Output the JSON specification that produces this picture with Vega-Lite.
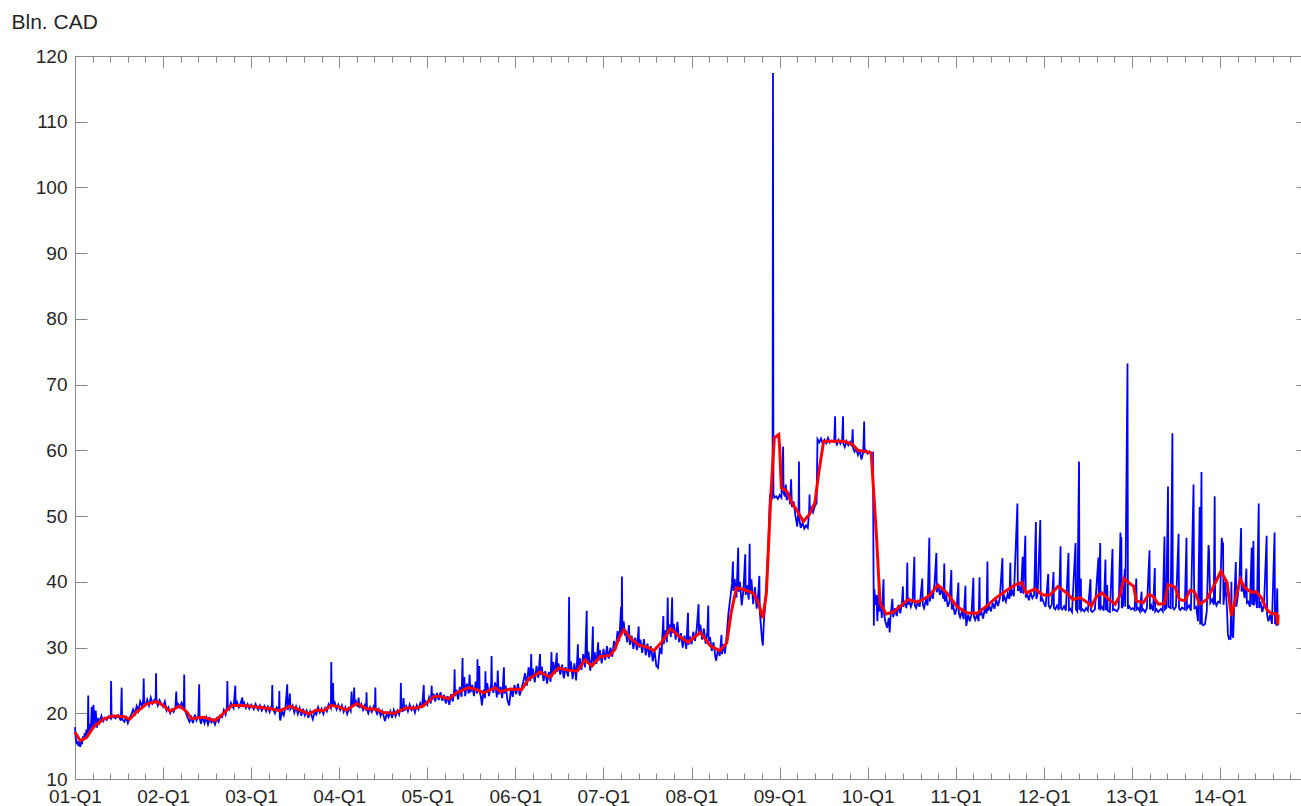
{
"$schema": "https://vega.github.io/schema/vega-lite/v6.json",
"width": 1226, "height": 723,
"autosize": {"type": "none"},
"padding": {"left": 75, "top": 56, "right": 0, "bottom": 27},
"background": "white",
"config": {"view": {"stroke": null}, "axis": {"grid": false, "labelFont": "Liberation Sans", "labelFontSize": 19, "labelColor": "#262626", "titleFont": "Liberation Sans", "titleFontSize": 21, "titleFontWeight": "normal", "titleColor": "#262626", "domainColor": "#8a8a8a", "tickColor": "#8a8a8a", "domainWidth": 1, "tickWidth": 1}},
"datasets": {
"blue": [
{"t":2001.000,"v":17.9},{"t":2001.008,"v":16.2},{"t":2001.02,"v":15.3},{"t":2001.03,"v":15.8},{"t":2001.04,"v":15.0},{"t":2001.05,"v":15.4},{"t":2001.06,"v":14.9},{"t":2001.07,"v":15.8},{"t":2001.08,"v":15.3},{"t":2001.09,"v":16.5},{"t":2001.10,"v":15.9},{"t":2001.11,"v":17.0},{"t":2001.12,"v":16.4},{"t":2001.13,"v":17.5},{"t":2001.145,"v":16.8},{"t":2001.15,"v":22.7},{"t":2001.155,"v":17.2},{"t":2001.17,"v":18.4},{"t":2001.18,"v":17.3},{"t":2001.19,"v":21.0},{"t":2001.20,"v":17.6},{"t":2001.21,"v":21.3},{"t":2001.22,"v":18.0},{"t":2001.235,"v":20.4},{"t":2001.25,"v":17.8},{"t":2001.265,"v":19.3},{"t":2001.28,"v":18.6},{"t":2001.30,"v":19.6},{"t":2001.32,"v":18.8},{"t":2001.34,"v":19.3},{"t":2001.36,"v":19.0},{"t":2001.38,"v":19.5},{"t":2001.405,"v":19.2},{"t":2001.41,"v":24.9},{"t":2001.415,"v":19.3},{"t":2001.43,"v":19.6},{"t":2001.46,"v":19.2},{"t":2001.49,"v":19.7},{"t":2001.52,"v":18.9},{"t":2001.53,"v":23.9},{"t":2001.535,"v":19.1},{"t":2001.56,"v":18.7},{"t":2001.58,"v":19.4},{"t":2001.60,"v":18.5},{"t":2001.62,"v":19.3},{"t":2001.64,"v":19.8},{"t":2001.66,"v":20.6},{"t":2001.68,"v":19.9},{"t":2001.70,"v":21.1},{"t":2001.72,"v":20.4},{"t":2001.74,"v":21.8},{"t":2001.76,"v":21.0},{"t":2001.775,"v":21.9},{"t":2001.78,"v":25.3},{"t":2001.785,"v":21.5},{"t":2001.80,"v":21.3},{"t":2001.82,"v":22.1},{"t":2001.84,"v":21.2},{"t":2001.86,"v":22.4},{"t":2001.88,"v":21.5},{"t":2001.90,"v":22.0},{"t":2001.915,"v":21.6},{"t":2001.92,"v":26.1},{"t":2001.925,"v":21.9},{"t":2001.94,"v":21.2},{"t":2001.96,"v":22.0},{"t":2001.98,"v":21.4},
{"t":2002.00,"v":21.0},{"t":2002.02,"v":21.8},{"t":2002.04,"v":20.4},{"t":2002.06,"v":20.9},{"t":2002.08,"v":20.0},{"t":2002.10,"v":20.6},{"t":2002.12,"v":20.2},{"t":2002.14,"v":21.0},{"t":2002.15,"v":23.3},{"t":2002.155,"v":20.8},{"t":2002.17,"v":21.4},{"t":2002.19,"v":20.9},{"t":2002.21,"v":21.6},{"t":2002.235,"v":20.8},{"t":2002.24,"v":25.9},{"t":2002.245,"v":20.6},{"t":2002.26,"v":20.0},{"t":2002.28,"v":19.3},{"t":2002.30,"v":18.7},{"t":2002.32,"v":19.4},{"t":2002.34,"v":18.5},{"t":2002.36,"v":19.8},{"t":2002.38,"v":18.9},{"t":2002.40,"v":19.6},{"t":2002.41,"v":24.4},{"t":2002.415,"v":19.3},{"t":2002.43,"v":18.4},{"t":2002.45,"v":19.5},{"t":2002.47,"v":18.5},{"t":2002.49,"v":19.4},{"t":2002.51,"v":18.3},{"t":2002.53,"v":19.2},{"t":2002.55,"v":18.6},{"t":2002.57,"v":19.0},{"t":2002.59,"v":18.3},{"t":2002.61,"v":19.2},{"t":2002.63,"v":18.7},{"t":2002.65,"v":19.6},{"t":2002.67,"v":19.4},{"t":2002.69,"v":20.5},{"t":2002.71,"v":19.8},{"t":2002.725,"v":21.0},{"t":2002.73,"v":24.9},{"t":2002.735,"v":21.0},{"t":2002.75,"v":20.6},{"t":2002.77,"v":21.6},{"t":2002.80,"v":20.8},{"t":2002.82,"v":24.2},{"t":2002.825,"v":21.2},{"t":2002.84,"v":21.7},{"t":2002.86,"v":20.9},{"t":2002.88,"v":21.5},{"t":2002.90,"v":22.4},{"t":2002.905,"v":21.0},{"t":2002.92,"v":21.6},{"t":2002.94,"v":20.8},{"t":2002.96,"v":21.4},{"t":2002.98,"v":20.7},
{"t":2003.00,"v":21.3},{"t":2003.03,"v":20.6},{"t":2003.05,"v":21.4},{"t":2003.08,"v":20.5},{"t":2003.10,"v":21.2},{"t":2003.12,"v":20.4},{"t":2003.15,"v":21.1},{"t":2003.17,"v":20.3},{"t":2003.19,"v":21.0},{"t":2003.21,"v":20.2},{"t":2003.235,"v":21.3},{"t":2003.24,"v":24.3},{"t":2003.245,"v":20.8},{"t":2003.27,"v":20.0},{"t":2003.29,"v":20.9},{"t":2003.315,"v":20.5},{"t":2003.32,"v":23.4},{"t":2003.325,"v":19.4},{"t":2003.33,"v":18.9},{"t":2003.35,"v":20.3},{"t":2003.37,"v":19.7},{"t":2003.39,"v":21.0},{"t":2003.41,"v":24.4},{"t":2003.415,"v":20.5},{"t":2003.43,"v":21.5},{"t":2003.44,"v":23.0},{"t":2003.445,"v":20.6},{"t":2003.47,"v":21.2},{"t":2003.49,"v":20.1},{"t":2003.51,"v":21.0},{"t":2003.53,"v":19.9},{"t":2003.55,"v":20.8},{"t":2003.57,"v":19.6},{"t":2003.59,"v":20.7},{"t":2003.61,"v":19.7},{"t":2003.63,"v":20.4},{"t":2003.65,"v":19.3},{"t":2003.67,"v":20.3},{"t":2003.70,"v":19.1},{"t":2003.72,"v":20.2},{"t":2003.74,"v":19.8},{"t":2003.76,"v":20.9},{"t":2003.78,"v":20.1},{"t":2003.80,"v":20.7},{"t":2003.82,"v":19.9},{"t":2003.84,"v":20.8},{"t":2003.86,"v":20.3},{"t":2003.88,"v":21.4},{"t":2003.905,"v":20.8},{"t":2003.91,"v":27.8},{"t":2003.915,"v":21.2},{"t":2003.93,"v":24.6},{"t":2003.935,"v":21.0},{"t":2003.95,"v":21.6},{"t":2003.97,"v":20.6},{"t":2003.99,"v":21.3},
{"t":2004.01,"v":20.5},{"t":2004.03,"v":21.2},{"t":2004.05,"v":20.2},{"t":2004.07,"v":20.9},{"t":2004.09,"v":19.9},{"t":2004.11,"v":20.8},{"t":2004.13,"v":20.3},{"t":2004.14,"v":23.3},{"t":2004.145,"v":21.0},{"t":2004.16,"v":21.4},{"t":2004.17,"v":23.9},{"t":2004.175,"v":21.2},{"t":2004.19,"v":21.8},{"t":2004.21,"v":21.0},{"t":2004.22,"v":22.4},{"t":2004.23,"v":20.8},{"t":2004.25,"v":21.4},{"t":2004.27,"v":20.5},{"t":2004.29,"v":21.2},{"t":2004.305,"v":20.4},{"t":2004.31,"v":23.2},{"t":2004.315,"v":20.6},{"t":2004.33,"v":20.0},{"t":2004.35,"v":20.9},{"t":2004.37,"v":20.2},{"t":2004.39,"v":21.0},{"t":2004.405,"v":20.5},{"t":2004.41,"v":23.9},{"t":2004.415,"v":20.4},{"t":2004.43,"v":19.9},{"t":2004.45,"v":20.6},{"t":2004.47,"v":19.6},{"t":2004.49,"v":20.3},{"t":2004.52,"v":18.8},{"t":2004.54,"v":20.0},{"t":2004.56,"v":19.4},{"t":2004.58,"v":20.3},{"t":2004.60,"v":19.3},{"t":2004.62,"v":20.5},{"t":2004.64,"v":19.6},{"t":2004.66,"v":20.4},{"t":2004.68,"v":19.8},{"t":2004.695,"v":20.9},{"t":2004.70,"v":24.6},{"t":2004.705,"v":20.7},{"t":2004.72,"v":20.2},{"t":2004.73,"v":22.3},{"t":2004.74,"v":20.4},{"t":2004.76,"v":21.1},{"t":2004.78,"v":20.3},{"t":2004.80,"v":21.3},{"t":2004.82,"v":20.5},{"t":2004.84,"v":21.0},{"t":2004.86,"v":20.1},{"t":2004.88,"v":21.2},{"t":2004.90,"v":20.6},{"t":2004.92,"v":21.5},{"t":2004.94,"v":20.8},{"t":2004.96,"v":24.3},{"t":2004.965,"v":21.2},{"t":2004.98,"v":21.8},
{"t":2005.00,"v":21.3},{"t":2005.02,"v":22.4},{"t":2005.04,"v":21.5},{"t":2005.05,"v":24.2},{"t":2005.055,"v":22.0},{"t":2005.07,"v":23.0},{"t":2005.09,"v":21.8},{"t":2005.11,"v":23.1},{"t":2005.13,"v":22.0},{"t":2005.15,"v":23.2},{"t":2005.17,"v":21.9},{"t":2005.19,"v":22.8},{"t":2005.21,"v":21.5},{"t":2005.23,"v":22.6},{"t":2005.25,"v":21.3},{"t":2005.27,"v":22.9},{"t":2005.29,"v":21.8},{"t":2005.305,"v":23.5},{"t":2005.31,"v":26.7},{"t":2005.315,"v":22.6},{"t":2005.33,"v":23.6},{"t":2005.35,"v":22.1},{"t":2005.37,"v":24.0},{"t":2005.39,"v":22.5},{"t":2005.40,"v":28.4},{"t":2005.405,"v":23.4},{"t":2005.42,"v":25.5},{"t":2005.43,"v":22.6},{"t":2005.45,"v":24.5},{"t":2005.47,"v":23.0},{"t":2005.48,"v":25.9},{"t":2005.49,"v":23.2},{"t":2005.51,"v":24.3},{"t":2005.53,"v":22.6},{"t":2005.55,"v":24.8},{"t":2005.565,"v":23.0},{"t":2005.57,"v":28.2},{"t":2005.575,"v":23.5},{"t":2005.59,"v":27.2},{"t":2005.595,"v":23.3},{"t":2005.61,"v":22.4},{"t":2005.62,"v":21.2},{"t":2005.64,"v":23.6},{"t":2005.655,"v":22.3},{"t":2005.66,"v":26.4},{"t":2005.665,"v":23.3},{"t":2005.68,"v":24.6},{"t":2005.70,"v":22.6},{"t":2005.725,"v":24.5},{"t":2005.73,"v":28.7},{"t":2005.735,"v":24.0},{"t":2005.75,"v":23.1},{"t":2005.77,"v":24.7},{"t":2005.79,"v":22.4},{"t":2005.80,"v":26.5},{"t":2005.81,"v":22.9},{"t":2005.83,"v":24.0},{"t":2005.85,"v":22.3},{"t":2005.87,"v":27.0},{"t":2005.875,"v":23.0},{"t":2005.89,"v":24.2},{"t":2005.91,"v":22.0},{"t":2005.93,"v":21.2},{"t":2005.95,"v":23.8},{"t":2005.97,"v":22.5},{"t":2005.99,"v":24.3},
{"t":2006.01,"v":22.9},{"t":2006.03,"v":24.5},{"t":2006.05,"v":22.7},{"t":2006.07,"v":23.9},{"t":2006.09,"v":24.8},{"t":2006.11,"v":26.1},{"t":2006.13,"v":24.2},{"t":2006.15,"v":27.0},{"t":2006.17,"v":24.9},{"t":2006.18,"v":29.0},{"t":2006.185,"v":25.3},{"t":2006.20,"v":26.8},{"t":2006.22,"v":24.7},{"t":2006.24,"v":27.2},{"t":2006.26,"v":25.4},{"t":2006.28,"v":29.0},{"t":2006.285,"v":25.8},{"t":2006.30,"v":27.1},{"t":2006.32,"v":24.9},{"t":2006.34,"v":26.4},{"t":2006.36,"v":24.5},{"t":2006.38,"v":26.3},{"t":2006.40,"v":24.8},{"t":2006.41,"v":29.3},{"t":2006.415,"v":25.5},{"t":2006.43,"v":27.8},{"t":2006.45,"v":26.0},{"t":2006.47,"v":29.2},{"t":2006.475,"v":26.3},{"t":2006.49,"v":27.6},{"t":2006.51,"v":25.9},{"t":2006.53,"v":27.4},{"t":2006.55,"v":25.3},{"t":2006.57,"v":27.0},{"t":2006.60,"v":25.6},{"t":2006.61,"v":37.7},{"t":2006.615,"v":26.5},{"t":2006.63,"v":27.9},{"t":2006.65,"v":25.2},{"t":2006.67,"v":27.6},{"t":2006.69,"v":25.0},{"t":2006.71,"v":30.5},{"t":2006.715,"v":26.4},{"t":2006.73,"v":28.4},{"t":2006.75,"v":26.6},{"t":2006.77,"v":29.0},{"t":2006.79,"v":27.0},{"t":2006.81,"v":35.6},{"t":2006.815,"v":27.8},{"t":2006.83,"v":29.4},{"t":2006.85,"v":26.5},{"t":2006.87,"v":28.9},{"t":2006.88,"v":33.2},{"t":2006.885,"v":27.4},{"t":2006.90,"v":29.3},{"t":2006.92,"v":27.5},{"t":2006.94,"v":30.8},{"t":2006.945,"v":28.0},{"t":2006.96,"v":29.6},{"t":2006.98,"v":27.6},
{"t":2007.00,"v":29.8},{"t":2007.02,"v":28.1},{"t":2007.04,"v":30.2},{"t":2007.06,"v":28.3},{"t":2007.08,"v":30.0},{"t":2007.10,"v":28.6},{"t":2007.12,"v":31.0},{"t":2007.14,"v":29.8},{"t":2007.16,"v":32.5},{"t":2007.18,"v":31.0},{"t":2007.20,"v":36.2},{"t":2007.205,"v":32.0},{"t":2007.21,"v":40.8},{"t":2007.215,"v":32.3},{"t":2007.23,"v":34.0},{"t":2007.245,"v":31.8},{"t":2007.25,"v":32.7},{"t":2007.27,"v":30.8},{"t":2007.29,"v":33.4},{"t":2007.30,"v":30.4},{"t":2007.32,"v":31.8},{"t":2007.34,"v":29.8},{"t":2007.36,"v":31.5},{"t":2007.38,"v":29.6},{"t":2007.40,"v":33.2},{"t":2007.405,"v":30.0},{"t":2007.42,"v":31.2},{"t":2007.44,"v":29.2},{"t":2007.46,"v":31.3},{"t":2007.48,"v":28.8},{"t":2007.50,"v":30.6},{"t":2007.52,"v":28.5},{"t":2007.54,"v":30.2},{"t":2007.56,"v":27.9},{"t":2007.58,"v":29.6},{"t":2007.60,"v":27.2},{"t":2007.62,"v":26.9},{"t":2007.64,"v":30.0},{"t":2007.66,"v":29.0},{"t":2007.68,"v":34.8},{"t":2007.685,"v":30.5},{"t":2007.70,"v":32.6},{"t":2007.72,"v":30.8},{"t":2007.73,"v":37.6},{"t":2007.735,"v":32.0},{"t":2007.75,"v":33.5},{"t":2007.765,"v":31.6},{"t":2007.78,"v":37.6},{"t":2007.785,"v":32.2},{"t":2007.80,"v":33.6},{"t":2007.82,"v":31.2},{"t":2007.84,"v":33.9},{"t":2007.86,"v":30.8},{"t":2007.88,"v":32.2},{"t":2007.90,"v":30.0},{"t":2007.92,"v":31.8},{"t":2007.94,"v":29.8},{"t":2007.96,"v":35.3},{"t":2007.965,"v":30.4},{"t":2007.98,"v":31.7},
{"t":2008.00,"v":30.5},{"t":2008.02,"v":32.4},{"t":2008.04,"v":31.0},{"t":2008.06,"v":33.0},{"t":2008.08,"v":36.6},{"t":2008.085,"v":32.0},{"t":2008.10,"v":33.5},{"t":2008.12,"v":31.2},{"t":2008.14,"v":32.9},{"t":2008.16,"v":30.6},{"t":2008.18,"v":32.4},{"t":2008.19,"v":36.4},{"t":2008.195,"v":31.0},{"t":2008.21,"v":31.6},{"t":2008.23,"v":29.5},{"t":2008.25,"v":30.8},{"t":2008.27,"v":28.6},{"t":2008.28,"v":28.0},{"t":2008.30,"v":29.8},{"t":2008.32,"v":28.7},{"t":2008.34,"v":31.9},{"t":2008.345,"v":29.0},{"t":2008.36,"v":30.5},{"t":2008.38,"v":29.1},{"t":2008.40,"v":32.0},{"t":2008.42,"v":35.3},{"t":2008.44,"v":37.5},{"t":2008.46,"v":39.8},{"t":2008.47,"v":43.1},{"t":2008.475,"v":38.6},{"t":2008.49,"v":40.4},{"t":2008.51,"v":37.6},{"t":2008.53,"v":45.2},{"t":2008.535,"v":38.5},{"t":2008.55,"v":40.0},{"t":2008.57,"v":36.4},{"t":2008.59,"v":38.8},{"t":2008.61,"v":44.2},{"t":2008.615,"v":38.0},{"t":2008.63,"v":39.5},{"t":2008.65,"v":37.3},{"t":2008.66,"v":45.8},{"t":2008.665,"v":38.2},{"t":2008.68,"v":40.4},{"t":2008.70,"v":36.6},{"t":2008.72,"v":39.2},{"t":2008.74,"v":35.9},{"t":2008.76,"v":38.6},{"t":2008.77,"v":40.9},{"t":2008.775,"v":35.5},{"t":2008.79,"v":33.0},{"t":2008.80,"v":31.2},{"t":2008.81,"v":30.3},{"t":2008.82,"v":33.5},{"t":2008.835,"v":36.4},{"t":2008.85,"v":39.5},{"t":2008.87,"v":45.0},{"t":2008.89,"v":53.0},{"t":2008.91,"v":52.6},{"t":2008.92,"v":53.2},{"t":2008.925,"v":117.4},{"t":2008.93,"v":53.4},{"t":2008.94,"v":52.8},{"t":2008.96,"v":53.0},{"t":2008.98,"v":52.6},
{"t":2009.00,"v":53.2},{"t":2009.02,"v":52.8},{"t":2009.04,"v":60.6},{"t":2009.045,"v":53.5},{"t":2009.06,"v":53.0},{"t":2009.07,"v":54.8},{"t":2009.08,"v":52.4},{"t":2009.10,"v":53.6},{"t":2009.12,"v":51.8},{"t":2009.13,"v":55.6},{"t":2009.14,"v":51.4},{"t":2009.16,"v":52.2},{"t":2009.18,"v":50.0},{"t":2009.20,"v":48.4},{"t":2009.215,"v":51.0},{"t":2009.22,"v":58.3},{"t":2009.225,"v":49.5},{"t":2009.24,"v":48.2},{"t":2009.26,"v":49.0},{"t":2009.28,"v":48.1},{"t":2009.30,"v":48.6},{"t":2009.32,"v":48.2},{"t":2009.335,"v":50.5},{"t":2009.34,"v":53.3},{"t":2009.345,"v":50.2},{"t":2009.36,"v":51.4},{"t":2009.38,"v":50.6},{"t":2009.40,"v":51.5},{"t":2009.42,"v":52.0},{"t":2009.43,"v":61.7},{"t":2009.45,"v":61.2},{"t":2009.47,"v":61.8},{"t":2009.49,"v":61.0},{"t":2009.51,"v":61.6},{"t":2009.53,"v":61.1},{"t":2009.55,"v":61.9},{"t":2009.57,"v":61.2},{"t":2009.59,"v":61.5},{"t":2009.62,"v":61.3},{"t":2009.63,"v":65.2},{"t":2009.635,"v":61.4},{"t":2009.65,"v":60.9},{"t":2009.67,"v":61.6},{"t":2009.69,"v":61.0},{"t":2009.71,"v":61.5},{"t":2009.72,"v":65.2},{"t":2009.725,"v":61.0},{"t":2009.74,"v":60.5},{"t":2009.76,"v":61.4},{"t":2009.78,"v":60.8},{"t":2009.80,"v":61.3},{"t":2009.82,"v":60.6},{"t":2009.83,"v":63.2},{"t":2009.835,"v":60.4},{"t":2009.85,"v":59.8},{"t":2009.87,"v":60.2},{"t":2009.89,"v":59.3},{"t":2009.91,"v":60.1},{"t":2009.93,"v":58.6},{"t":2009.95,"v":59.8},{"t":2009.96,"v":64.4},{"t":2009.965,"v":59.6},{"t":2009.98,"v":60.0},
{"t":2010.00,"v":59.5},{"t":2010.02,"v":59.8},{"t":2010.04,"v":59.3},{"t":2010.06,"v":59.6},{"t":2010.065,"v":45.0},{"t":2010.07,"v":33.3},{"t":2010.075,"v":38.9},{"t":2010.09,"v":36.5},{"t":2010.10,"v":38.0},{"t":2010.11,"v":34.0},{"t":2010.12,"v":36.8},{"t":2010.13,"v":40.4},{"t":2010.135,"v":35.5},{"t":2010.15,"v":37.0},{"t":2010.16,"v":34.5},{"t":2010.18,"v":40.4},{"t":2010.185,"v":35.2},{"t":2010.20,"v":34.0},{"t":2010.22,"v":33.0},{"t":2010.24,"v":34.5},{"t":2010.25,"v":32.3},{"t":2010.26,"v":34.8},{"t":2010.28,"v":37.4},{"t":2010.29,"v":34.6},{"t":2010.31,"v":36.0},{"t":2010.33,"v":34.8},{"t":2010.35,"v":36.5},{"t":2010.37,"v":35.2},{"t":2010.39,"v":36.9},{"t":2010.40,"v":39.3},{"t":2010.405,"v":36.2},{"t":2010.42,"v":37.1},{"t":2010.44,"v":36.0},{"t":2010.45,"v":42.9},{"t":2010.455,"v":36.5},{"t":2010.47,"v":37.2},{"t":2010.49,"v":36.2},{"t":2010.51,"v":37.0},{"t":2010.53,"v":43.8},{"t":2010.535,"v":36.4},{"t":2010.55,"v":36.0},{"t":2010.57,"v":37.0},{"t":2010.59,"v":36.2},{"t":2010.62,"v":40.5},{"t":2010.625,"v":36.6},{"t":2010.64,"v":36.0},{"t":2010.66,"v":37.2},{"t":2010.68,"v":36.4},{"t":2010.70,"v":46.7},{"t":2010.705,"v":37.0},{"t":2010.72,"v":38.5},{"t":2010.74,"v":37.4},{"t":2010.76,"v":39.8},{"t":2010.78,"v":44.4},{"t":2010.785,"v":38.4},{"t":2010.80,"v":39.6},{"t":2010.82,"v":38.0},{"t":2010.84,"v":39.0},{"t":2010.86,"v":37.4},{"t":2010.87,"v":42.8},{"t":2010.875,"v":37.0},{"t":2010.89,"v":38.0},{"t":2010.91,"v":36.2},{"t":2010.93,"v":37.0},{"t":2010.95,"v":41.8},{"t":2010.955,"v":35.8},{"t":2010.97,"v":36.4},{"t":2010.99,"v":35.0},
{"t":2011.01,"v":35.9},{"t":2011.03,"v":39.9},{"t":2011.035,"v":35.2},{"t":2011.05,"v":34.6},{"t":2011.07,"v":35.5},{"t":2011.09,"v":34.3},{"t":2011.11,"v":39.4},{"t":2011.115,"v":34.5},{"t":2011.12,"v":33.3},{"t":2011.14,"v":35.0},{"t":2011.16,"v":34.0},{"t":2011.18,"v":35.2},{"t":2011.20,"v":40.6},{"t":2011.205,"v":34.8},{"t":2011.22,"v":34.2},{"t":2011.24,"v":35.0},{"t":2011.26,"v":34.0},{"t":2011.27,"v":40.7},{"t":2011.275,"v":34.9},{"t":2011.29,"v":35.5},{"t":2011.31,"v":34.4},{"t":2011.33,"v":35.9},{"t":2011.35,"v":35.2},{"t":2011.36,"v":43.1},{"t":2011.365,"v":35.6},{"t":2011.38,"v":36.4},{"t":2011.40,"v":35.5},{"t":2011.42,"v":36.8},{"t":2011.44,"v":35.9},{"t":2011.46,"v":37.3},{"t":2011.48,"v":36.3},{"t":2011.50,"v":37.5},{"t":2011.53,"v":43.6},{"t":2011.535,"v":37.0},{"t":2011.55,"v":37.8},{"t":2011.57,"v":37.0},{"t":2011.59,"v":38.2},{"t":2011.61,"v":37.4},{"t":2011.62,"v":42.9},{"t":2011.625,"v":37.8},{"t":2011.64,"v":38.6},{"t":2011.66,"v":37.8},{"t":2011.70,"v":51.9},{"t":2011.705,"v":38.6},{"t":2011.72,"v":39.2},{"t":2011.74,"v":38.3},{"t":2011.76,"v":43.8},{"t":2011.765,"v":38.2},{"t":2011.79,"v":47.0},{"t":2011.795,"v":37.6},{"t":2011.81,"v":38.2},{"t":2011.83,"v":37.2},{"t":2011.85,"v":38.4},{"t":2011.87,"v":37.5},{"t":2011.89,"v":38.0},{"t":2011.91,"v":49.1},{"t":2011.915,"v":37.4},{"t":2011.93,"v":38.2},{"t":2011.96,"v":49.4},{"t":2011.965,"v":37.0},{"t":2011.98,"v":37.5},
{"t":2012.00,"v":36.8},{"t":2012.02,"v":36.2},{"t":2012.05,"v":41.2},{"t":2012.055,"v":36.4},{"t":2012.07,"v":36.0},{"t":2012.09,"v":36.5},{"t":2012.11,"v":41.5},{"t":2012.115,"v":36.0},{"t":2012.13,"v":35.8},{"t":2012.15,"v":36.4},{"t":2012.17,"v":35.7},{"t":2012.19,"v":45.4},{"t":2012.195,"v":36.0},{"t":2012.21,"v":35.8},{"t":2012.23,"v":36.3},{"t":2012.25,"v":35.6},{"t":2012.28,"v":44.4},{"t":2012.285,"v":35.7},{"t":2012.30,"v":35.9},{"t":2012.32,"v":35.4},{"t":2012.36,"v":45.9},{"t":2012.365,"v":35.8},{"t":2012.38,"v":35.5},{"t":2012.40,"v":58.3},{"t":2012.405,"v":35.7},{"t":2012.42,"v":40.5},{"t":2012.425,"v":35.6},{"t":2012.44,"v":35.8},{"t":2012.46,"v":35.5},{"t":2012.48,"v":36.0},{"t":2012.50,"v":35.6},{"t":2012.53,"v":40.4},{"t":2012.535,"v":35.6},{"t":2012.55,"v":35.4},{"t":2012.58,"v":35.8},{"t":2012.62,"v":43.7},{"t":2012.625,"v":35.8},{"t":2012.64,"v":45.9},{"t":2012.645,"v":35.9},{"t":2012.66,"v":36.2},{"t":2012.68,"v":35.6},{"t":2012.70,"v":43.4},{"t":2012.705,"v":35.7},{"t":2012.72,"v":39.5},{"t":2012.725,"v":35.6},{"t":2012.75,"v":35.4},{"t":2012.78,"v":45.0},{"t":2012.785,"v":35.7},{"t":2012.80,"v":35.8},{"t":2012.83,"v":35.5},{"t":2012.85,"v":36.0},{"t":2012.87,"v":47.5},{"t":2012.875,"v":38.0},{"t":2012.88,"v":46.8},{"t":2012.885,"v":36.0},{"t":2012.90,"v":36.4},{"t":2012.92,"v":42.0},{"t":2012.925,"v":36.2},{"t":2012.95,"v":73.2},{"t":2012.955,"v":35.9},{"t":2012.97,"v":36.3},{"t":2012.99,"v":35.8},
{"t":2013.01,"v":36.0},{"t":2013.03,"v":35.7},{"t":2013.05,"v":40.5},{"t":2013.055,"v":35.8},{"t":2013.07,"v":36.0},{"t":2013.09,"v":35.5},{"t":2013.11,"v":38.5},{"t":2013.115,"v":35.6},{"t":2013.13,"v":35.8},{"t":2013.15,"v":35.4},{"t":2013.17,"v":36.0},{"t":2013.20,"v":44.8},{"t":2013.205,"v":35.8},{"t":2013.22,"v":36.4},{"t":2013.24,"v":35.6},{"t":2013.26,"v":42.1},{"t":2013.265,"v":35.5},{"t":2013.28,"v":35.8},{"t":2013.30,"v":35.4},{"t":2013.33,"v":35.9},{"t":2013.35,"v":35.5},{"t":2013.37,"v":46.9},{"t":2013.375,"v":35.8},{"t":2013.39,"v":36.0},{"t":2013.41,"v":54.5},{"t":2013.415,"v":36.2},{"t":2013.44,"v":36.0},{"t":2013.46,"v":62.6},{"t":2013.465,"v":36.1},{"t":2013.48,"v":35.8},{"t":2013.50,"v":36.2},{"t":2013.53,"v":47.3},{"t":2013.535,"v":36.0},{"t":2013.55,"v":35.7},{"t":2013.57,"v":36.1},{"t":2013.60,"v":35.8},{"t":2013.62,"v":46.7},{"t":2013.625,"v":35.9},{"t":2013.65,"v":36.4},{"t":2013.67,"v":35.6},{"t":2013.70,"v":54.8},{"t":2013.705,"v":41.0},{"t":2013.71,"v":36.0},{"t":2013.73,"v":36.2},{"t":2013.75,"v":34.0},{"t":2013.77,"v":51.4},{"t":2013.775,"v":33.5},{"t":2013.79,"v":56.7},{"t":2013.795,"v":33.6},{"t":2013.81,"v":33.4},{"t":2013.83,"v":33.6},{"t":2013.85,"v":35.5},{"t":2013.87,"v":45.6},{"t":2013.875,"v":44.8},{"t":2013.89,"v":36.8},{"t":2013.91,"v":37.3},{"t":2013.93,"v":36.5},{"t":2013.94,"v":53.0},{"t":2013.945,"v":37.0},{"t":2013.96,"v":36.4},{"t":2013.98,"v":37.0},
{"t":2014.00,"v":36.8},{"t":2014.02,"v":46.7},{"t":2014.03,"v":45.6},{"t":2014.035,"v":46.0},{"t":2014.04,"v":36.5},{"t":2014.06,"v":40.0},{"t":2014.08,"v":35.8},{"t":2014.09,"v":32.0},{"t":2014.10,"v":31.4},{"t":2014.11,"v":31.6},{"t":2014.12,"v":31.2},{"t":2014.13,"v":40.0},{"t":2014.135,"v":32.0},{"t":2014.15,"v":31.5},{"t":2014.16,"v":36.0},{"t":2014.18,"v":43.0},{"t":2014.185,"v":36.2},{"t":2014.20,"v":37.5},{"t":2014.22,"v":40.0},{"t":2014.24,"v":48.2},{"t":2014.245,"v":38.5},{"t":2014.26,"v":39.5},{"t":2014.28,"v":37.5},{"t":2014.30,"v":42.0},{"t":2014.305,"v":36.8},{"t":2014.32,"v":37.0},{"t":2014.34,"v":36.2},{"t":2014.36,"v":45.2},{"t":2014.365,"v":36.5},{"t":2014.38,"v":46.2},{"t":2014.385,"v":36.4},{"t":2014.40,"v":38.5},{"t":2014.42,"v":36.0},{"t":2014.44,"v":51.9},{"t":2014.445,"v":36.0},{"t":2014.46,"v":37.0},{"t":2014.48,"v":35.4},{"t":2014.50,"v":36.5},{"t":2014.53,"v":47.0},{"t":2014.535,"v":35.0},{"t":2014.55,"v":34.0},{"t":2014.57,"v":35.0},{"t":2014.59,"v":33.6},{"t":2014.62,"v":47.5},{"t":2014.625,"v":33.7},{"t":2014.64,"v":33.5},{"t":2014.65,"v":39.0},{"t":2014.655,"v":33.6},{"t":2014.665,"v":33.4}
],
"red": [
{"t":2001.00,"v":17.1},{"t":2001.06,"v":15.8},{"t":2001.13,"v":16.3},{"t":2001.21,"v":17.9},{"t":2001.32,"v":19.1},{"t":2001.43,"v":19.6},{"t":2001.55,"v":19.5},{"t":2001.62,"v":19.1},{"t":2001.70,"v":20.2},{"t":2001.81,"v":21.4},{"t":2001.93,"v":21.8},{"t":2002.00,"v":21.2},{"t":2002.08,"v":20.3},{"t":2002.19,"v":21.1},{"t":2002.27,"v":20.2},{"t":2002.32,"v":19.2},{"t":2002.46,"v":19.4},{"t":2002.59,"v":18.9},{"t":2002.68,"v":19.9},{"t":2002.78,"v":21.2},{"t":2002.87,"v":21.2},{"t":2002.97,"v":21.1},{"t":2003.10,"v":20.9},{"t":2003.25,"v":20.6},{"t":2003.33,"v":20.4},{"t":2003.44,"v":21.1},{"t":2003.55,"v":20.5},{"t":2003.66,"v":19.9},{"t":2003.74,"v":20.5},{"t":2003.82,"v":20.4},{"t":2003.91,"v":21.2},{"t":2004.01,"v":20.9},{"t":2004.08,"v":20.5},{"t":2004.20,"v":21.5},{"t":2004.31,"v":20.7},{"t":2004.42,"v":20.6},{"t":2004.50,"v":20.1},{"t":2004.63,"v":20.0},{"t":2004.75,"v":20.8},{"t":2004.88,"v":20.8},{"t":2004.95,"v":21.1},{"t":2005.07,"v":22.5},{"t":2005.14,"v":22.6},{"t":2005.24,"v":22.2},{"t":2005.33,"v":23.1},{"t":2005.47,"v":23.9},{"t":2005.56,"v":23.6},{"t":2005.64,"v":23.1},{"t":2005.77,"v":23.9},{"t":2005.83,"v":23.3},{"t":2005.94,"v":23.7},{"t":2006.07,"v":23.6},{"t":2006.15,"v":25.2},{"t":2006.28,"v":26.3},{"t":2006.39,"v":25.5},{"t":2006.49,"v":26.9},{"t":2006.58,"v":26.6},{"t":2006.70,"v":26.4},{"t":2006.79,"v":28.1},{"t":2006.87,"v":27.2},{"t":2006.96,"v":28.6},{"t":2007.07,"v":28.8},{"t":2007.13,"v":29.7},{"t":2007.17,"v":31.3},{"t":2007.23,"v":32.7},{"t":2007.30,"v":31.5},{"t":2007.40,"v":30.4},{"t":2007.51,"v":30.0},{"t":2007.57,"v":29.5},{"t":2007.66,"v":30.8},{"t":2007.76,"v":32.9},{"t":2007.85,"v":31.8},{"t":2007.96,"v":30.8},{"t":2008.10,"v":32.3},{"t":2008.21,"v":30.3},{"t":2008.32,"v":29.5},{"t":2008.40,"v":30.7},{"t":2008.45,"v":35.3},{"t":2008.51,"v":39.1},{"t":2008.57,"v":38.9},{"t":2008.64,"v":38.6},{"t":2008.70,"v":38.3},{"t":2008.76,"v":36.8},{"t":2008.81,"v":34.5},{"t":2008.85,"v":38.3},{"t":2008.90,"v":53.0},{"t":2008.94,"v":61.9},{"t":2008.99,"v":62.4},{"t":2009.00,"v":60.6},{"t":2009.02,"v":54.3},{"t":2009.08,"v":53.8},{"t":2009.14,"v":52.0},{"t":2009.19,"v":51.0},{"t":2009.27,"v":49.2},{"t":2009.34,"v":50.3},{"t":2009.40,"v":52.0},{"t":2009.45,"v":57.1},{"t":2009.50,"v":61.4},{"t":2009.61,"v":61.4},{"t":2009.72,"v":61.4},{"t":2009.82,"v":61.0},{"t":2009.89,"v":60.0},{"t":2009.99,"v":59.8},{"t":2010.04,"v":59.6},{"t":2010.10,"v":47.0},{"t":2010.14,"v":36.8},{"t":2010.21,"v":35.1},{"t":2010.29,"v":35.4},{"t":2010.37,"v":36.3},{"t":2010.46,"v":37.3},{"t":2010.57,"v":36.9},{"t":2010.69,"v":37.8},{"t":2010.80,"v":39.5},{"t":2010.90,"v":38.3},{"t":2011.01,"v":36.3},{"t":2011.12,"v":35.3},{"t":2011.24,"v":35.2},{"t":2011.35,"v":36.3},{"t":2011.46,"v":37.6},{"t":2011.58,"v":38.7},{"t":2011.67,"v":39.5},{"t":2011.75,"v":39.9},{"t":2011.80,"v":38.3},{"t":2011.90,"v":38.9},{"t":2011.99,"v":38.0},{"t":2012.07,"v":38.0},{"t":2012.16,"v":39.3},{"t":2012.26,"v":38.3},{"t":2012.33,"v":37.3},{"t":2012.41,"v":37.6},{"t":2012.50,"v":36.8},{"t":2012.54,"v":36.3},{"t":2012.60,"v":37.8},{"t":2012.66,"v":38.3},{"t":2012.73,"v":37.4},{"t":2012.81,"v":36.6},{"t":2012.86,"v":37.8},{"t":2012.91,"v":40.5},{"t":2012.96,"v":39.9},{"t":2013.02,"v":39.3},{"t":2013.05,"v":37.1},{"t":2013.13,"v":36.8},{"t":2013.19,"v":38.1},{"t":2013.24,"v":37.8},{"t":2013.30,"v":36.6},{"t":2013.37,"v":36.7},{"t":2013.41,"v":39.6},{"t":2013.49,"v":39.2},{"t":2013.54,"v":37.3},{"t":2013.60,"v":37.1},{"t":2013.66,"v":38.7},{"t":2013.71,"v":38.5},{"t":2013.77,"v":36.6},{"t":2013.85,"v":37.3},{"t":2013.92,"v":39.1},{"t":2014.01,"v":41.6},{"t":2014.08,"v":39.9},{"t":2014.13,"v":34.8},{"t":2014.19,"v":38.1},{"t":2014.23,"v":40.4},{"t":2014.28,"v":39.1},{"t":2014.36,"v":38.4},{"t":2014.41,"v":38.5},{"t":2014.47,"v":37.6},{"t":2014.53,"v":35.8},{"t":2014.59,"v":35.1},{"t":2014.64,"v":35.2},{"t":2014.655,"v":33.5},{"t":2014.66,"v":35.0}
]
},
"resolve": {"axis": {"x": "independent", "y": "independent"}},
"layer": [
{"data": {"name": "blue"}, "mark": {"type": "line", "color": "#0000ff", "strokeWidth": 1.8},
 "encoding": {
  "x": {"field": "t", "type": "quantitative", "scale": {"domain": [2001, 2014.92], "nice": false, "zero": false},
        "axis": {"orient": "bottom", "title": null, "values": [2001,2002,2003,2004,2005,2006,2007,2008,2009,2010,2011,2012,2013,2014], "labelExpr": "(datum.value < 2010 ? '0' : '') + (datum.value - 2000) + '-Q1'", "ticks": false, "domain": true, "labelPadding": 8, "labelFlush": false, "labelOverlap": false}},
  "y": {"field": "v", "type": "quantitative", "scale": {"domain": [10, 120], "nice": false, "zero": false},
        "axis": {"orient": "left", "values": [10,20,30,40,50,60,70,80,90,100,110,120], "format": "d", "ticks": false, "domain": true, "labelPadding": 8, "title": "Bln. CAD", "titleAngle": 0, "titleAlign": "left", "titleBaseline": "alphabetic", "titleX": -64, "titleY": -28}}
 }},
{"data": {"name": "red"}, "mark": {"type": "line", "color": "#ff0000", "strokeWidth": 3},
 "encoding": {
  "x": {"field": "t", "type": "quantitative", "scale": {"domain": [2001, 2014.92], "nice": false, "zero": false},
        "axis": {"orient": "top", "title": null, "labels": false, "domain": true, "values": [2001,2002,2003,2004,2005,2006,2007,2008,2009,2010,2011,2012,2013,2014], "tickSize": -12}},
  "y": {"field": "v", "type": "quantitative", "scale": {"domain": [10, 120], "nice": false, "zero": false},
        "axis": {"orient": "right", "title": null, "labels": false, "domain": false, "offset": 7, "values": [10,20,30,40,50,60,70,80,90,100,110,120], "tickSize": -12}}
 }},
{"data": {"name": "red"}, "mark": {"type": "line", "opacity": 0},
 "encoding": {
  "x": {"field": "t", "type": "quantitative", "scale": {"domain": [2001, 2014.92], "nice": false, "zero": false},
        "axis": {"orient": "bottom", "title": null, "labels": false, "domain": false, "values": [2001,2002,2003,2004,2005,2006,2007,2008,2009,2010,2011,2012,2013,2014], "tickSize": -12}},
  "y": {"field": "v", "type": "quantitative", "scale": {"domain": [10, 120], "nice": false, "zero": false},
        "axis": {"orient": "left", "title": null, "labels": false, "domain": false, "values": [10,20,30,40,50,60,70,80,90,100,110,120], "tickSize": -12}}
 }},
{"data": {"name": "red"}, "mark": {"type": "line", "opacity": 0},
 "encoding": {
  "x": {"field": "t", "type": "quantitative", "scale": {"domain": [2001, 2014.92], "nice": false, "zero": false},
        "axis": {"orient": "bottom", "title": null, "labels": false, "domain": false, "tickSize": -6, "values": [2001.2,2001.4,2001.6,2001.8,2002.2,2002.4,2002.6,2002.8,2003.2,2003.4,2003.6,2003.8,2004.2,2004.4,2004.6,2004.8,2005.2,2005.4,2005.6,2005.8,2006.2,2006.4,2006.6,2006.8,2007.2,2007.4,2007.6,2007.8,2008.2,2008.4,2008.6,2008.8,2009.2,2009.4,2009.6,2009.8,2010.2,2010.4,2010.6,2010.8,2011.2,2011.4,2011.6,2011.8,2012.2,2012.4,2012.6,2012.8,2013.2,2013.4,2013.6,2013.8,2014.2,2014.4,2014.6,2014.8]}},
  "y": {"field": "v", "type": "quantitative", "scale": {"domain": [10, 120], "nice": false, "zero": false}, "axis": null}
 }},
{"data": {"name": "red"}, "mark": {"type": "line", "opacity": 0},
 "encoding": {
  "x": {"field": "t", "type": "quantitative", "scale": {"domain": [2001, 2014.92], "nice": false, "zero": false},
        "axis": {"orient": "top", "title": null, "labels": false, "domain": false, "tickSize": -6, "values": [2001.2,2001.4,2001.6,2001.8,2002.2,2002.4,2002.6,2002.8,2003.2,2003.4,2003.6,2003.8,2004.2,2004.4,2004.6,2004.8,2005.2,2005.4,2005.6,2005.8,2006.2,2006.4,2006.6,2006.8,2007.2,2007.4,2007.6,2007.8,2008.2,2008.4,2008.6,2008.8,2009.2,2009.4,2009.6,2009.8,2010.2,2010.4,2010.6,2010.8,2011.2,2011.4,2011.6,2011.8,2012.2,2012.4,2012.6,2012.8,2013.2,2013.4,2013.6,2013.8,2014.2,2014.4,2014.6,2014.8]}},
  "y": {"field": "v", "type": "quantitative", "scale": {"domain": [10, 120], "nice": false, "zero": false}, "axis": null}
 }}
]
}
